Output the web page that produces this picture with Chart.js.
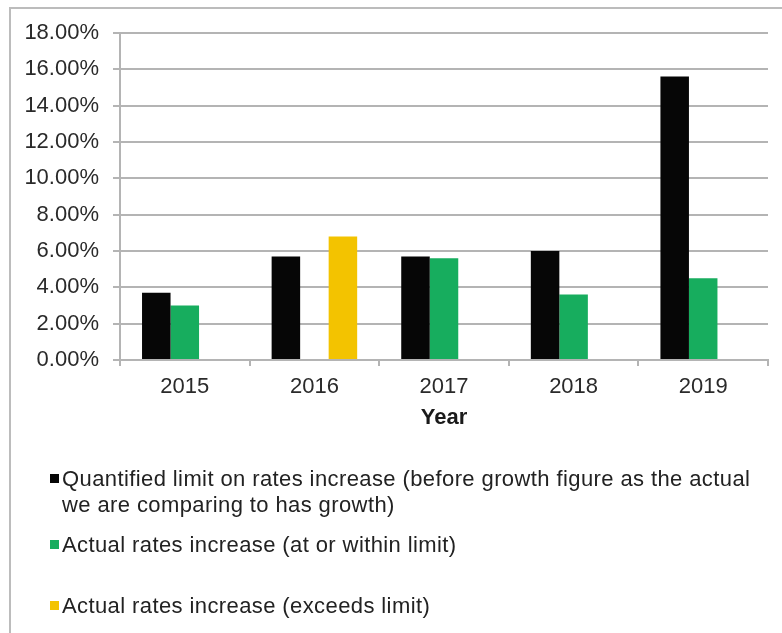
<!DOCTYPE html>
<html>
<head>
<meta charset="utf-8">
<script src="https://cdn.jsdelivr.net/npm/chart.js@4.4.1/dist/chart.umd.min.js"></script>
<style>
  html, body { margin: 0; padding: 0; background: #fff; }
  #wrap { position: relative; width: 782px; height: 633px; overflow: hidden; }
  #frame { position: absolute; left: 9px; top: 7px; width: 800px; height: 700px;
           border-left: 2px solid #bcbcbc; border-top: 2px solid #bcbcbc; }
  #chart { position: absolute; left: 0; top: 0; }
  #legend { position: absolute; left: 0; top: 0; width: 782px; height: 633px;
            font-family: "Liberation Sans", Arial, sans-serif; font-size: 22px;
            letter-spacing: 0.4px; color: #222; }
  .item { position: absolute; left: 62px; line-height: 26px; width: 710px; }
  .box { position: absolute; left: -12px; top: 8px; width: 9px; height: 9px; }
</style>
</head>
<body>
<div id="wrap">
  <div id="frame"></div>
  <canvas id="chart" width="782" height="435"></canvas>
  <div id="legend"></div>
</div>
<script>
var years = ["2015", "2016", "2017", "2018", "2019"]
var limitValues = [3.7, 5.7, 5.7, 6.0, 15.6]
var withinValues = [3.0, null, 5.6, 3.6, 4.5]
var exceedsValues = [null, 6.8, null, null, null]

var seriesNames = [
  "Quantified limit on rates increase (before growth figure as the actual we are comparing to has growth)",
  "Actual rates increase (at or within limit)",
  "Actual rates increase (exceeds limit)"
]
var seriesColors = ["#060606", "#17ad5e", "#f3c300"]
var legendTops = [466, 532, 593]

var tickFont = { family: "'Liberation Sans', Arial, sans-serif", size: 22 }
var gridColor = "#b4b4b4"

var chart = new Chart(document.getElementById("chart"), {
  type: "bar",
  data: {
    labels: years,
    datasets: [
      { label: seriesNames[0], data: limitValues, backgroundColor: seriesColors[0] },
      { label: seriesNames[1], data: withinValues, backgroundColor: seriesColors[1] },
      { label: seriesNames[2], data: exceedsValues, backgroundColor: seriesColors[2] }
    ]
  },
  options: {
    responsive: false,
    animation: false,
    layout: { padding: { top: 33, right: 14, bottom: 0, left: 0 } },
    datasets: { bar: { categoryPercentage: 0.66, barPercentage: 1 } },
    plugins: { legend: { display: false }, tooltip: { enabled: false } },
    scales: {
      x: {
        grid: { drawOnChartArea: false, drawTicks: true, tickLength: 6, color: gridColor, lineWidth: 2 },
        border: { color: gridColor, width: 2 },
        ticks: { font: tickFont, color: "#2a2a2a", padding: 8 },
        title: { display: true, text: "Year", color: "#1a1a1a",
                 font: { family: "'Liberation Sans', Arial, sans-serif", size: 22, weight: "bold" },
                 padding: { top: 0, bottom: 4 } },
        afterFit: function (scale) { scale.height = 75 }
      },
      y: {
        min: 0,
        max: 18,
        grid: { color: gridColor, lineWidth: 2, tickLength: 7 },
        border: { color: gridColor, width: 2 },
        ticks: {
          stepSize: 2,
          font: tickFont,
          color: "#2a2a2a",
          padding: 14,
          callback: function (v) { return v.toFixed(2) + "%" }
        },
        afterFit: function (scale) { scale.width = 120 }
      }
    }
  }
})

// legend built from the chart's own datasets
var legend = document.getElementById("legend")
chart.data.datasets.forEach(function (ds, i) {
  var item = document.createElement("div")
  item.className = "item"
  item.style.top = legendTops[i] + "px"
  var box = document.createElement("span")
  box.className = "box"
  box.style.background = ds.backgroundColor
  item.appendChild(box)
  item.appendChild(document.createTextNode(ds.label))
  legend.appendChild(item)
})
</script>
</body>
</html>
